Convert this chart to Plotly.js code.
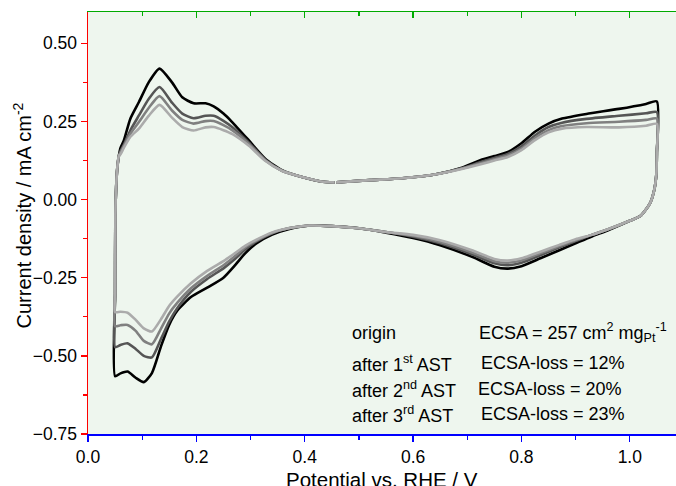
<!DOCTYPE html>
<html>
<head>
<meta charset="utf-8">
<script src="https://cdn.plot.ly/plotly-3.0.1.min.js"></script>
<style>
html, body { margin: 0; padding: 0; overflow: hidden; background: #fff; }
#chart { width: 676px; height: 486px; }
</style>
</head>
<body>
<div id="chart"></div>
<script>
// Potential (V vs RHE) along the closed CV loop: anodic upper part, cathodic sweep, anodic lower part
const potentialAnodicHigh = [0.458, 0.52, 0.58, 0.64, 0.69, 0.725, 0.75, 0.775, 0.80, 0.825, 0.85, 0.875, 0.92, 0.98, 1.03, 1.05];
const potentialCathodic = [1.05, 1.049, 1.045, 1.037, 1.02, 1.0, 0.96, 0.93, 0.90, 0.87, 0.835, 0.80, 0.775, 0.75, 0.71, 0.65, 0.60, 0.55, 0.50, 0.45, 0.41, 0.37, 0.34, 0.31, 0.29, 0.27, 0.25, 0.22, 0.19, 0.165, 0.15, 0.135, 0.118, 0.103, 0.088, 0.073, 0.06, 0.05];
const potentialAnodicLow = [0.05, 0.0505, 0.052, 0.054, 0.057, 0.06, 0.066, 0.078, 0.094, 0.112, 0.132, 0.155, 0.174, 0.195, 0.217, 0.232, 0.25, 0.266, 0.297, 0.327, 0.358, 0.395, 0.43, 0.455];

// Current density (mA cm^-2), one array per curve and loop part
const originHigh = [0.055, 0.062, 0.068, 0.080, 0.102, 0.127, 0.139, 0.152, 0.180, 0.217, 0.243, 0.259, 0.274, 0.290, 0.306, 0.314];
const originCath = [0.15, 0.08, 0.03, -0.013, -0.052, -0.068, -0.098, -0.118, -0.140, -0.162, -0.188, -0.213, -0.221, -0.215, -0.184, -0.146, -0.123, -0.106, -0.092, -0.085, -0.083, -0.095, -0.112, -0.141, -0.172, -0.213, -0.250, -0.282, -0.312, -0.355, -0.400, -0.468, -0.555, -0.584, -0.570, -0.550, -0.556, -0.565];
const originLow = [-0.3, -0.05, 0.04, 0.10, 0.14, 0.165, 0.188, 0.258, 0.312, 0.375, 0.419, 0.375, 0.327, 0.308, 0.308, 0.298, 0.275, 0.248, 0.189, 0.131, 0.094, 0.072, 0.058, 0.055];

const ast1High = [0.055, 0.062, 0.068, 0.080, 0.100, 0.120, 0.133, 0.146, 0.170, 0.205, 0.232, 0.246, 0.258, 0.268, 0.276, 0.280];
const ast1Cath = [0.15, 0.08, 0.03, -0.013, -0.052, -0.068, -0.095, -0.113, -0.133, -0.153, -0.178, -0.202, -0.210, -0.204, -0.176, -0.140, -0.119, -0.104, -0.092, -0.085, -0.083, -0.092, -0.108, -0.135, -0.160, -0.192, -0.220, -0.254, -0.295, -0.347, -0.390, -0.445, -0.505, -0.500, -0.478, -0.460, -0.465, -0.472];
const ast1Low = [-0.3, -0.05, 0.04, 0.10, 0.14, 0.155, 0.175, 0.221, 0.269, 0.322, 0.360, 0.310, 0.275, 0.260, 0.268, 0.268, 0.252, 0.232, 0.182, 0.128, 0.092, 0.072, 0.058, 0.055];

const ast2High = [0.055, 0.062, 0.068, 0.080, 0.099, 0.116, 0.129, 0.141, 0.163, 0.197, 0.222, 0.235, 0.244, 0.249, 0.255, 0.259];
const ast2Cath = [0.15, 0.08, 0.03, -0.013, -0.052, -0.068, -0.095, -0.113, -0.130, -0.149, -0.172, -0.195, -0.202, -0.197, -0.170, -0.136, -0.116, -0.104, -0.092, -0.085, -0.083, -0.092, -0.107, -0.132, -0.153, -0.183, -0.210, -0.244, -0.284, -0.330, -0.364, -0.412, -0.463, -0.452, -0.420, -0.401, -0.402, -0.405];
const ast2Low = [-0.3, -0.05, 0.04, 0.10, 0.14, 0.15, 0.17, 0.21, 0.248, 0.293, 0.331, 0.285, 0.255, 0.243, 0.251, 0.251, 0.238, 0.222, 0.178, 0.126, 0.092, 0.072, 0.058, 0.055];

const ast3High = [0.055, 0.062, 0.068, 0.080, 0.098, 0.113, 0.125, 0.136, 0.158, 0.190, 0.215, 0.227, 0.232, 0.231, 0.236, 0.242];
const ast3Cath = [0.15, 0.08, 0.03, -0.013, -0.052, -0.068, -0.095, -0.113, -0.127, -0.145, -0.167, -0.188, -0.195, -0.190, -0.163, -0.130, -0.113, -0.104, -0.092, -0.085, -0.083, -0.092, -0.105, -0.129, -0.148, -0.173, -0.197, -0.228, -0.268, -0.310, -0.340, -0.382, -0.422, -0.412, -0.385, -0.362, -0.359, -0.360];
const ast3Low = [-0.3, -0.05, 0.04, 0.10, 0.14, 0.145, 0.165, 0.20, 0.227, 0.268, 0.303, 0.262, 0.232, 0.221, 0.231, 0.232, 0.222, 0.21, 0.172, 0.124, 0.092, 0.072, 0.058, 0.055];

const seriesNames = ['origin', 'after 1st AST', 'after 2nd AST', 'after 3rd AST'];
const seriesColors = ['#000000', '#555555', '#808080', '#ababab'];

// Texts
const xTitle = 'Potential vs. RHE / V';
const yTitle = 'Current density / mA cm<sup>-2</sup>';
const labelLeft = ['origin', 'after 1<sup>st</sup> AST', 'after 2<sup>nd</sup> AST', 'after 3<sup>rd</sup> AST'];
const labelRight = ['ECSA = 257 cm<sup>2</sup> mg<sub>Pt</sub><sup>-1</sup>', 'ECSA-loss = 12%', 'ECSA-loss = 20%', 'ECSA-loss = 23%'];

const loopX = potentialAnodicHigh.concat(potentialCathodic, potentialAnodicLow);
const loops = [
  originHigh.concat(originCath, originLow),
  ast1High.concat(ast1Cath, ast1Low),
  ast2High.concat(ast2Cath, ast2Low),
  ast3High.concat(ast3Cath, ast3Low)
];

const traces = loops.map((y, i) => ({
  type: 'scatter',
  mode: 'lines',
  x: loopX,
  y: y,
  name: seriesNames[i],
  line: { color: seriesColors[i], width: 2.6, shape: 'spline', smoothing: 0.6 },
  showlegend: false,
  hoverinfo: 'skip'
}));
// empty helper trace so the top (inside-tick) axis gets drawn
traces.push({ type: 'scatter', mode: 'lines', x: [], y: [], xaxis: 'x2', yaxis: 'y', showlegend: false, hoverinfo: 'skip' });

const FONT = 'Liberation Sans, Arial, sans-serif';
const XMAX = 1.0853;
const YRANGE = [-0.75, 0.6];
const annRowY = [0.24, 0.168, 0.1066, 0.047];
const annotations = [];
labelLeft.forEach((t, i) => {
  annotations.push({ xref: 'paper', yref: 'paper', x: 0.4456, y: annRowY[i], xanchor: 'left', yanchor: 'middle', text: t, showarrow: false, font: { family: FONT, size: 18, color: '#000' } });
});
const rightX = [0.6612, 0.6646, 0.6595, 0.6646];
labelRight.forEach((t, i) => {
  annotations.push({ xref: 'paper', yref: 'paper', x: rightX[i], y: annRowY[i], xanchor: 'left', yanchor: 'middle', text: t, showarrow: false, font: { family: FONT, size: 18, color: '#000' } });
});
annotations.push({ xref: 'paper', yref: 'paper', x: 0.5, y: 0, xanchor: 'center', yanchor: 'top', yshift: -32, text: xTitle, showarrow: false, font: { family: FONT, size: 20.5, color: '#000' } });
annotations.push({ xref: 'paper', yref: 'paper', x: -0.1114, y: 0.519, xanchor: 'center', yanchor: 'middle', textangle: -90, text: yTitle, showarrow: false, font: { family: FONT, size: 20, color: '#000' } });

// DIAGNOSTIC colours to find the stray right-hand line
const layout = {
  width: 676,
  height: 486,
  margin: { l: 88, r: 0, t: 12, b: 52 },
  paper_bgcolor: '#fff',
  plot_bgcolor: '#eef6ee',
  font: { family: FONT, size: 17.5, color: '#000' },
  showlegend: false,
  xaxis: {
    range: [0, XMAX],
    tick0: 0, dtick: 0.2,
    tickformat: '.1f',
    ticks: 'outside', ticklen: 6, tickwidth: 1.3, tickcolor: '#0000ff',
    minor: { dtick: 0.1, ticks: 'outside', ticklen: 4, tickwidth: 1.3, tickcolor: '#0000ff' },
    showline: true, linecolor: '#0000ff', linewidth: 1.5, mirror: false,
    showgrid: false, zeroline: false,
    tickfont: { family: FONT, size: 17.5, color: '#000' }
  },
  xaxis2: {
    overlaying: 'x', side: 'top', anchor: 'y',
    range: [0, XMAX], autorange: false, tick0: 0, dtick: 0.2,
    ticks: 'inside', ticklen: 6, tickwidth: 1.3, tickcolor: '#00aa00',
    minor: { dtick: 0.1, ticks: 'inside', ticklen: 4, tickwidth: 1.3, tickcolor: '#00aa00' },
    showticklabels: false,
    showline: true, linecolor: '#00aa00', linewidth: 1.5,
    showgrid: false, zeroline: false
  },
  yaxis: {
    range: YRANGE,
    tick0: 0, dtick: 0.25,
    tickformat: '.2f',
    ticks: 'outside', ticklen: 6, tickwidth: 1.3, tickcolor: '#ff0000',
    minor: { dtick: 0.125, ticks: 'outside', ticklen: 4, tickwidth: 1.3, tickcolor: '#ff0000' },
    showline: true, linecolor: '#ff0000', linewidth: 1.5, mirror: false,
    showgrid: false, zeroline: false,
    tickfont: { family: FONT, size: 17.5, color: '#000' }
  },
  annotations: annotations
};

Plotly.newPlot('chart', traces, layout, { displayModeBar: false, staticPlot: true });
</script>
</body>
</html>
